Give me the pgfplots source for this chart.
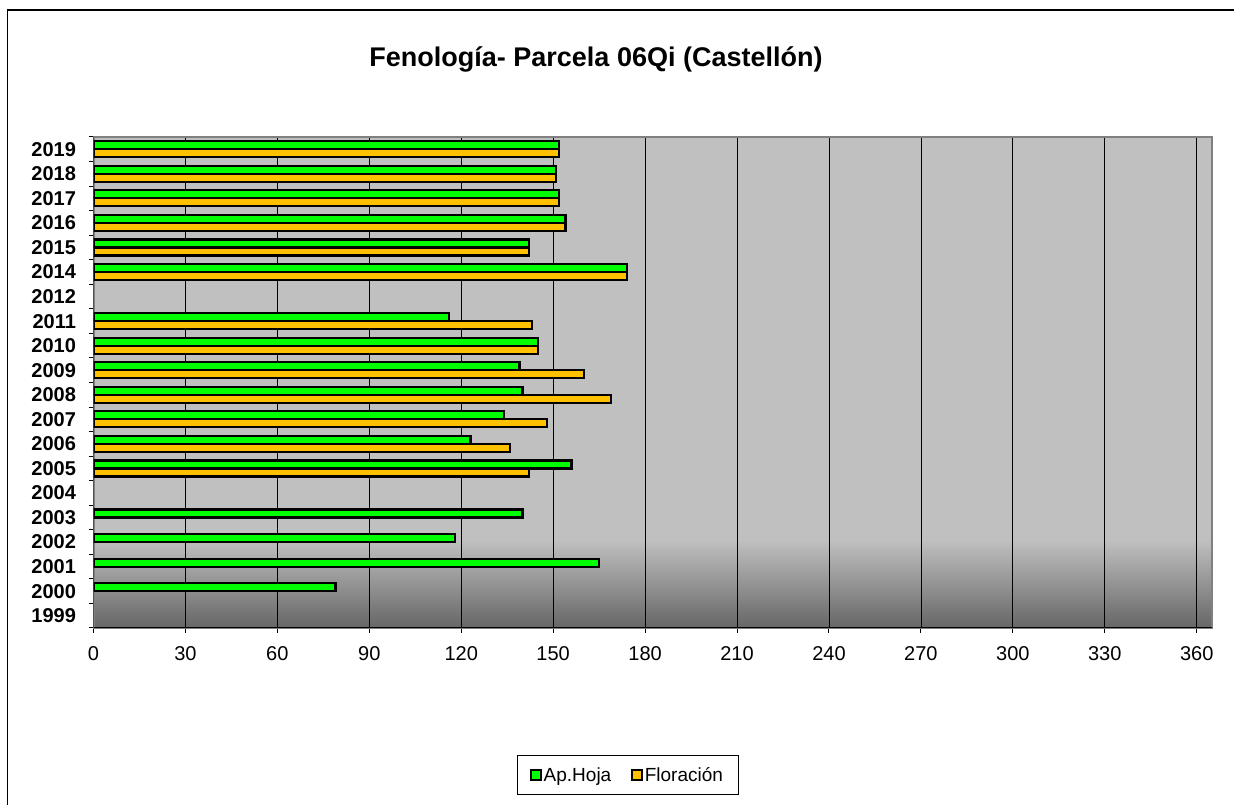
\documentclass[border=0pt]{standalone}
\usepackage{pgfplots}
\pgfplotsset{compat=1.18}
\usepackage{fontspec}
\setmainfont{Liberation Sans}
\definecolor{apgreen}{HTML}{00FF00}
\definecolor{florange}{HTML}{FFC000}
\definecolor{bglight}{HTML}{C0C0C0}
\definecolor{bgdark}{HTML}{666666}
\definecolor{framegray}{HTML}{808080}
\pgfdeclareverticalshading{plotbg}{100bp}{color(0bp)=(bgdark); color(25bp)=(bgdark); color(34bp)=(bglight); color(100bp)=(bglight)}
\begin{document}
\begin{tikzpicture}
\useasboundingbox (0pt,0pt) rectangle (1234pt,805pt);
\fill[white] (0pt,0pt) rectangle (1234pt,805pt);
\draw[line width=1.5pt, black] (7.5pt,0pt) -- (7.5pt,795pt) -- (1234pt,795pt);
\node[anchor=base, font=\bfseries\fontsize{27}{32}\selectfont] at (596pt,738pt) {Fenología- Parcela 06Qi (Castellón)};
\begin{axis}[
  at={(93.5pt,177pt)}, anchor=south west, scale only axis,
  width=1118.5pt, height=491pt,
  xbar, bar width=8pt,
  xmin=0, xmax=365, ymin=-0.5, ymax=19.5,
  xtick={0,30,...,360},
  xtick pos=bottom, ytick pos=left,
  /pgf/number format/assume math mode=true,
  xticklabel style={font=\fontsize{20}{24}\selectfont, yshift=-10pt},
  ytick={-0.5,0.5,...,19.5}, yticklabels={},
  extra y ticks={0,1,...,19},
  extra y tick labels={1999,2000,2001,2002,2003,2004,2005,2006,2007,2008,2009,2010,2011,2012,2014,2015,2016,2017,2018,2019},
  extra y tick style={major tick length=0pt, yticklabel style={font=\bfseries\fontsize{20}{24}\selectfont, xshift=-14pt}},
  tick align=outside, major tick length=5pt,
  tick style={black, line width=1pt},
  xmajorgrids, major x grid style={black, line width=0.8pt},
  axis line style={draw=framegray, line width=2pt},
  axis background/.style={shading=plotbg},
  legend style={at={(0.4775,-0.2994)}, anchor=center, draw=black, line width=0.8pt,
    font=\fontsize{19}{22}\selectfont, legend columns=2,
    inner xsep=13pt, inner ysep=10pt,
    /tikz/every even column/.append style={column sep=18pt}},
]
\addplot[bar shift=4pt, fill=apgreen, draw=black, line width=2.2pt,
  legend image code/.code={\draw[fill=apgreen, draw=black, line width=1.5pt] (0pt,-5pt) rectangle (10pt,5pt);}]
  coordinates {(79,1) (165,2) (118,3) (140,4) (156,6) (123,7) (134,8) (140,9) (139,10) (145,11) (116,12) (174,14) (142,15) (154,16) (152,17) (151,18) (152,19)};
\addlegendentry{Ap.Hoja}
\addplot[bar shift=-4pt, fill=florange, draw=black, line width=2.2pt,
  legend image code/.code={\draw[fill=florange, draw=black, line width=1.5pt] (0pt,-5pt) rectangle (10pt,5pt);}]
  coordinates {(142,6) (136,7) (148,8) (169,9) (160,10) (145,11) (143,12) (174,14) (142,15) (154,16) (152,17) (151,18) (152,19)};
\addlegendentry{Floración}
\draw[black, line width=1.5pt] (rel axis cs:0,1) -- (rel axis cs:0,0) -- (rel axis cs:1,0);
\end{axis}
\end{tikzpicture}
\end{document}
